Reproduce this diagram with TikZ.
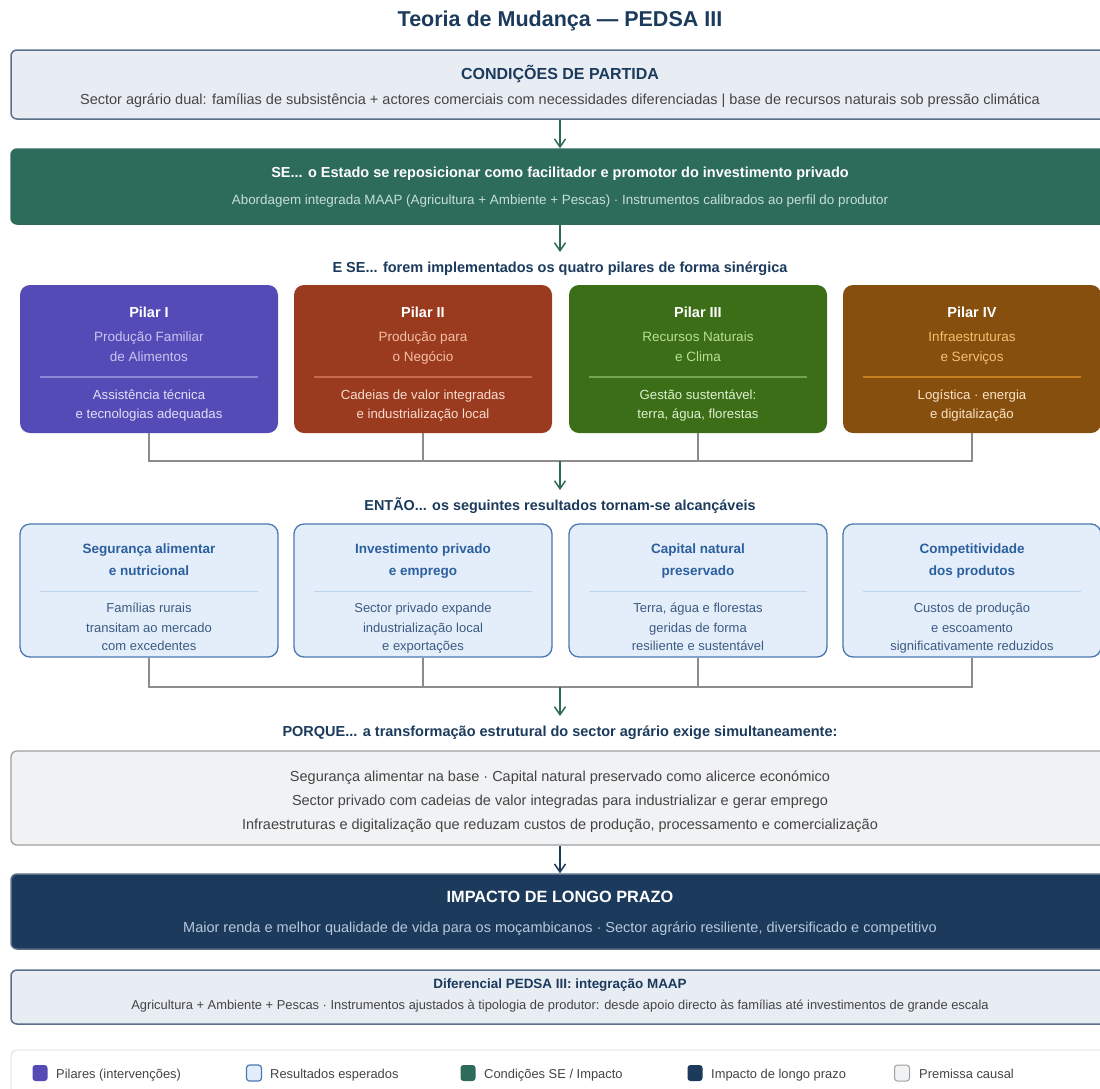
\documentclass[tikz,border=0pt]{standalone}
\usepackage{fontspec}
\setmainfont{Liberation Sans}
\usetikzlibrary{arrows.meta}
\definecolor{navy}{HTML}{1B3A5C}
\definecolor{startfill}{HTML}{E8EDF4}
\definecolor{startdraw}{HTML}{5A6F8A}
\definecolor{segreen}{HTML}{2D6B5A}
\definecolor{segreenlt}{HTML}{C6E0D5}
\definecolor{implt}{HTML}{B8C8DC}
\definecolor{arrowgreen}{HTML}{2D6B57}
\definecolor{txtgray}{HTML}{444444}
\definecolor{conngray}{HTML}{8C8C8C}
\definecolor{pAfill}{HTML}{544BB6}\definecolor{pAsub}{HTML}{C9C5F2}\definecolor{pAlow}{HTML}{E2E0F8}\definecolor{pAsep}{HTML}{8E87D8}
\definecolor{pBfill}{HTML}{9A3B1F}\definecolor{pBsub}{HTML}{F5BFA6}\definecolor{pBlow}{HTML}{F8DCCF}\definecolor{pBsep}{HTML}{C86A4A}
\definecolor{pCfill}{HTML}{3B6E17}\definecolor{pCsub}{HTML}{B8E096}\definecolor{pClow}{HTML}{DDF0CF}\definecolor{pCsep}{HTML}{74A44C}
\definecolor{pDfill}{HTML}{864F0E}\definecolor{pDsub}{HTML}{F6C070}\definecolor{pDlow}{HTML}{FBE3C6}\definecolor{pDsep}{HTML}{C88020}
\definecolor{resfill}{HTML}{E4EEFA}\definecolor{resdraw}{HTML}{4A78B0}\definecolor{restitle}{HTML}{2B5F9E}
\definecolor{ressep}{HTML}{BDD6F0}\definecolor{resbody}{HTML}{3B5B82}
\definecolor{premfill}{HTML}{F1F2F4}\definecolor{premdraw}{HTML}{A0A0A0}
\definecolor{legdraw}{HTML}{E2E2E2}
\tikzset{
  fs/.style={font=\fontsize{#1}{#1}\selectfont},
  wbox/.style={rounded corners=6pt, minimum width=1098pt, inner sep=0pt, line width=1.5pt},
  pillar/.style={rounded corners=10pt, minimum width=258pt, minimum height=148pt, inner sep=0pt},
  resbox/.style={rounded corners=10pt, minimum width=258pt, minimum height=133pt, inner sep=0pt,
     fill=resfill, draw=resdraw, line width=1.3pt},
  txt/.style={inner sep=0pt, anchor=center, yshift=-3pt, text height=0.72em, text depth=0.21em},
  flowarrow/.style={draw=arrowgreen, line width=1.8pt, -{Straight Barb[length=8pt,width=11pt,line width=1.5pt]}},
  conn/.style={draw=conngray, line width=1.2pt},
  swatch/.style={minimum width=15pt, minimum height=16pt, inner sep=0pt, rounded corners=3pt},
  legtxt/.style={inner sep=0pt, anchor=west, fs=12.9, text=txtgray, yshift=-2.5pt, text height=0.72em, text depth=0.21em},
}
\begin{document}
\begin{tikzpicture}[x=1pt,y=-1pt]
\useasboundingbox (0,0) rectangle (1100,1088);
\clip (0,0) rectangle (1100,1088);
\fill[white] (0,0) rectangle (1100,1088);

% title
\node[txt, fs=21.5, text=navy] (title) at (560,21) {\bfseries Teoria de Mudança — PEDSA III};

% start conditions
\node[wbox, fill=startfill, draw=startdraw, minimum height=69pt] (start) at (560,84.5) {};
\node[txt, fs=16, text=navy] (startT) at (560,74) {\bfseries CONDIÇÕES DE PARTIDA};
\node[txt, fs=14.5, text=txtgray] (startS) at (560,99) {Sector agrário dual: famílias de subsistência + actores comerciais com necessidades diferenciadas | base de recursos naturais sob pressão climática};

% SE box
\node[wbox, fill=segreen, draw=segreen, minimum height=75pt] (se) at (560,186.5) {};
\node[txt, fs=14.5, text=white] (seT) at (560,172) {\bfseries SE... o Estado se reposicionar como facilitador e promotor do investimento privado};
\node[txt, fs=13.4, text=segreenlt] (seS) at (560,199) {Abordagem integrada MAAP (Agricultura + Ambiente + Pescas) · Instrumentos calibrados ao perfil do produtor};

\draw[flowarrow] (start.south) -- (se.north);
\coordinate (a2end) at (560,252);
\draw[flowarrow] (se.south) -- (a2end);
\node[txt, fs=14.5, text=navy] (lab1) at (560,267) {\bfseries E SE... forem implementados os quatro pilares de forma sinérgica};

% pillars
\foreach \i/\cx/\col/\title/\subA/\subB/\lowA/\lowB in {
  1/149/A/Pilar I/Produção Familiar/de Alimentos/Assistência técnica/e tecnologias adequadas,
  2/423/B/Pilar II/Produção para/o Negócio/Cadeias de valor integradas/e industrialização local,
  3/698/C/Pilar III/Recursos Naturais/e Clima/Gestão sustentável:/{terra, água, florestas},
  4/972/D/Pilar IV/Infraestruturas/e Serviços/Logística · energia/e digitalização}{
  \node[pillar, fill=p\col fill] (p\i) at (\cx,359) {};
  \node[txt, fs=14.5, text=white] (p\i t) at (\cx,312) {\bfseries \title};
  \node[txt, fs=13.5, text=p\col sub] (p\i a) at (\cx,336) {\subA};
  \node[txt, fs=13.5, text=p\col sub] (p\i b) at (\cx,356) {\subB};
  \draw[draw=p\col sep, line width=1.2pt] (\cx-109,377) -- (\cx+109,377);
  \node[txt, fs=13.2, text=p\col low] (p\i c) at (\cx,394) {\lowA};
  \node[txt, fs=13.2, text=p\col low] (p\i d) at (\cx,413) {\lowB};
}

\coordinate (j1) at (560,461);
\draw[conn] (p1.south) |- (j1);
\draw[conn] (p4.south) |- (j1);
\draw[conn] (p2.south) -- (p2.south |- j1);
\draw[conn] (p3.south) -- (p3.south |- j1);
\coordinate (a3end) at (560,490);
\draw[flowarrow] (j1) -- (a3end);
\node[txt, fs=14.4, text=navy] (lab2) at (560,505) {\bfseries ENTÃO... os seguintes resultados tornam-se alcançáveis};

% results
\foreach \i/\cx/\tA/\tB/\bA/\bB/\bC in {
  1/149/Segurança alimentar/e nutricional/Famílias rurais/transitam ao mercado/com excedentes,
  2/423/Investimento privado/e emprego/Sector privado expande/industrialização local/e exportações,
  3/698/Capital natural/preservado/{Terra, água e florestas}/geridas de forma/resiliente e sustentável,
  4/972/Competitividade/dos produtos/Custos de produção/e escoamento/significativamente reduzidos}{
  \node[resbox] (r\i) at (\cx,590.5) {};
  \node[txt, fs=13.5, text=restitle] (r\i a) at (\cx,548) {\bfseries \tA};
  \node[txt, fs=13.5, text=restitle] (r\i b) at (\cx,570) {\bfseries \tB};
  \draw[draw=ressep, line width=1pt] (\cx-109,591) -- (\cx+109,591);
  \node[txt, fs=13, text=resbody] (r\i c) at (\cx,607) {\bA};
  \node[txt, fs=13, text=resbody] (r\i d) at (\cx,627) {\bB};
  \node[txt, fs=13, text=resbody] (r\i e) at (\cx,645) {\bC};
}

\coordinate (j2) at (560,687);
\draw[conn] (r1.south) |- (j2);
\draw[conn] (r4.south) |- (j2);
\draw[conn] (r2.south) -- (r2.south |- j2);
\draw[conn] (r3.south) -- (r3.south |- j2);
\coordinate (a4end) at (560,716);
\draw[flowarrow] (j2) -- (a4end);
\node[txt, fs=14.5, text=navy] (lab3) at (560,731) {\bfseries PORQUE... a transformação estrutural do sector agrário exige simultaneamente:};

% premise
\node[wbox, fill=premfill, draw=premdraw, minimum height=94pt, line width=1.3pt] (prem) at (560,798) {};
\node[txt, fs=14.5, text=txtgray] (prem1) at (560,776) {Segurança alimentar na base · Capital natural preservado como alicerce económico};
\node[txt, fs=14.5, text=txtgray] (prem2) at (560,800) {Sector privado com cadeias de valor integradas para industrializar e gerar emprego};
\node[txt, fs=14.5, text=txtgray] (prem3) at (560,824) {Infraestruturas e digitalização que reduzam custos de produção, processamento e comercialização};

% impact
\node[wbox, fill=navy, draw=startdraw, minimum height=75pt] (imp) at (560,911.5) {};
\draw[flowarrow, draw=navy] (prem.south) -- (imp.north);
\node[txt, fs=16.3, text=white] (impT) at (560,897) {\bfseries IMPACTO DE LONGO PRAZO};
\node[txt, fs=14.5, text=implt] (impS) at (560,927) {Maior renda e melhor qualidade de vida para os moçambicanos · Sector agrário resiliente, diversificado e competitivo};

% differential
\node[wbox, fill=startfill, draw=startdraw, minimum height=54pt] (dif) at (560,997) {};
\node[txt, fs=13.45, text=navy] (difT) at (560,983) {\bfseries Diferencial PEDSA III: integração MAAP};
\node[txt, fs=12.9, text=txtgray] (difS) at (560,1004) {Agricultura + Ambiente + Pescas · Instrumentos ajustados à tipologia de produtor: desde apoio directo às famílias até investimentos de grande escala};

% legend
\node[wbox, fill=white, draw=legdraw, line width=1pt, minimum height=60pt] (leg) at (560,1080) {};
\node[swatch, fill=pAfill] (s1) at (40,1073) {};
\node[legtxt] (l1) at (56,1073) {Pilares (intervenções)};
\node[swatch, fill=resfill, draw=resdraw, line width=1.2pt] (s2) at (254,1073) {};
\node[legtxt] (l2) at (270,1073) {Resultados esperados};
\node[swatch, fill=segreen] (s3) at (468,1073) {};
\node[legtxt] (l3) at (484,1073) {Condições SE / Impacto};
\node[swatch, fill=navy] (s4) at (695,1073) {};
\node[legtxt] (l4) at (711,1073) {Impacto de longo prazo};
\node[swatch, fill=premfill, draw=premdraw, line width=1pt] (s5) at (902,1073) {};
\node[legtxt] (l5) at (919,1073) {Premissa causal};
\end{tikzpicture}
\end{document}
